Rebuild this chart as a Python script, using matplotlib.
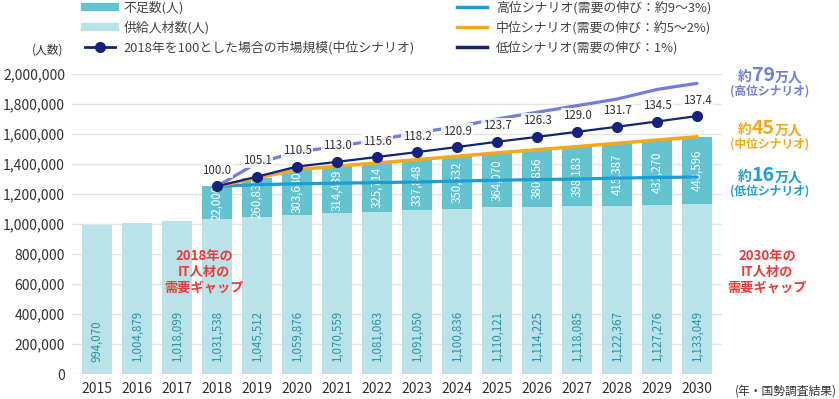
import matplotlib
matplotlib.use('Agg')
import matplotlib.pyplot as plt
from matplotlib.lines import Line2D
from matplotlib.ticker import FuncFormatter

plt.rcParams['font.family'] = ['Noto Sans CJK JP', 'DejaVu Sans']

# data
years = list(range(2015, 2031))
supply = [994070, 1004879, 1018099, 1031538, 1045512, 1059876, 1070559, 1081063,
          1091050, 1100836, 1110121, 1114225, 1118085, 1122367, 1127276, 1133049]
gap_years = list(range(2018, 2031))
shortage = [220000, 260835, 303680, 314439, 325714, 337848, 350532, 364070,
            380856, 398183, 415387, 432270, 448596]
shortage_labels = ['22,000', '260,835', '303,680', '314,439', '325,714', '337,848', '350,532',
                   '364,070', '380,856', '398,183', '415,387', '432,270', '448,596']
market_index = [100.0, 105.1, 110.5, 113.0, 115.6, 118.2, 120.9, 123.7, 126.3, 129.0, 131.7, 134.5, 137.4]
high_demand = [1251538, 1407000, 1480000, 1517000, 1560000, 1607000, 1650000, 1700000,
               1745000, 1789000, 1833000, 1897000, 1938000]
low_demand = [1251538, 1262000, 1268000, 1272000, 1276000, 1280000, 1286000, 1292000,
              1296000, 1300000, 1306000, 1310000, 1313000]

C_SHORT = '#63c3cf'
C_SUPPLY = '#b9e3e9'
C_NAVY = '#15237f'
C_HIGH = '#727de0'
C_MID = '#f6a81c'
C_LOW = '#1d9dd5'
C_RED = '#f03a3a'
C_TEXT = '#333333'

W, H = 839, 399
fig = plt.figure(figsize=(W / 100, H / 100), dpi=100)


def px(x, y):
    return (x / W, 1 - y / H)


ax = fig.add_axes([72 / W, 25 / H, 650 / W, 300 / H])

mid_demand = [supply[years.index(y)] + s for y, s in zip(gap_years, shortage)]
supply_gap = [supply[years.index(y)] for y in gap_years]

ax.bar(years, supply, width=0.75, color=C_SUPPLY, zorder=2)
ax.bar(gap_years, shortage, width=0.75, bottom=supply_gap, color=C_SHORT, zorder=2)

for yr, v in zip(years, supply):
    ax.annotate(f'{v:,}', (yr, 0), xytext=(0, 8.5), textcoords='offset points',
                rotation=90, ha='center', va='bottom', fontsize=8.3, color='#2b94a3', zorder=3)
for yr, b, s, lab in zip(gap_years, supply_gap, shortage, shortage_labels):
    ax.text(yr, b + s / 2, lab, rotation=90, ha='center', va='center',
            fontsize=8.3, color='white', zorder=3)

ax.plot(gap_years, high_demand, color=C_HIGH, lw=2.3, zorder=4, solid_capstyle='round')
ax.plot(gap_years, low_demand, color=C_LOW, lw=2.3, zorder=4, solid_capstyle='round')
ax.plot(gap_years, mid_demand, color=C_MID, lw=2.5, zorder=5, solid_capstyle='round')

base = mid_demand[0]
market = [v / 100 * base for v in market_index]
ax.plot(gap_years, market, color=C_NAVY, lw=1.6, marker='o', ms=7, zorder=6)
for yr, m, v in zip(gap_years, market, market_index):
    ax.annotate(f'{v:.1f}', (yr, m), xytext=(0, 11.5), textcoords='offset points',
                ha='center', va='center', fontsize=8.3, color=C_TEXT, zorder=7,
                bbox=dict(boxstyle='square,pad=0.1', fc='white', ec='none', alpha=0.85))

ax.set_xlim(2014.375, 2030.625)
ax.set_ylim(0, 2000000)
ax.set_yticks(range(0, 2000001, 200000))
ax.yaxis.set_major_formatter(FuncFormatter(lambda v, p: f'{int(v):,}'))
ax.set_xticks(years)
ax.tick_params(axis='both', length=0, labelsize=10, labelcolor=C_TEXT)
ax.tick_params(axis='y', pad=5)
ax.tick_params(axis='x', pad=6)
ax.yaxis.grid(True, color='#e4e4e4', lw=1)
ax.set_axisbelow(True)
for sp in ax.spines.values():
    sp.set_visible(False)

fig.text(*px(48, 50), '(人数)', fontsize=8.5, color=C_TEXT, ha='center', va='center')
fig.text(*px(735, 391), '(年・国勢調査結果)', fontsize=8.5, color=C_TEXT, ha='left', va='center')

# legends
h_left = [Line2D([], [], color=C_SHORT, lw=6),
          Line2D([], [], color=C_SUPPLY, lw=6),
          Line2D([], [], color=C_NAVY, lw=2, marker='o', ms=7)]
l_left = ['不足数(人)', '供給人材数(人)', '2018年を100とした場合の市場規模(中位シナリオ)']
h_right = [Line2D([], [], color=C_LOW, lw=2.5),
           Line2D([], [], color=C_MID, lw=2.5),
           Line2D([], [], color=C_NAVY, lw=2.5)]
l_right = ['高位シナリオ(需要の伸び：約9〜3%)', '中位シナリオ(需要の伸び：約5〜2%)', '低位シナリオ(需要の伸び：1%)']
for hs, ls, x0 in [(h_left, l_left, 85), (h_right, l_right, 457)]:
    fig.legend(hs, ls, loc='upper left', bbox_to_anchor=px(x0, 1), frameon=False,
               borderpad=0, borderaxespad=0, handlelength=2.3, handletextpad=0.7,
               labelspacing=0.5, fontsize=9.3, labelcolor='#444444')

# right side annotations
renderer = fig.canvas.get_renderer()


def rich(xc, yb, parts, color):
    items = []
    for s, size in parts:
        t = fig.text(0, 0, s, fontsize=size, color=color, fontweight='bold', ha='left', va='baseline')
        items.append((t, t.get_window_extent(renderer).width))
    total = sum(w for _, w in items)
    x = xc - total / 2
    for t, w in items:
        t.set_position(px(x, yb))
        x += w


scen = [('79', C_HIGH, '(高位シナリオ)', 81), ('45', C_MID, '(中位シナリオ)', 134),
        ('16', C_LOW, '(低位シナリオ)', 181)]
for num, col, lab, yb in scen:
    rich(770, yb, [('約', 10), (num, 14), ('万人', 10)], col)
    fig.text(*px(770, yb + 10), lab, fontsize=8.5, color=col, fontweight='bold', ha='center', va='center')

for xc, year in [(204, '2018'), (767, '2030')]:
    for i, line in enumerate([year + '年の', 'IT人材の', '需要ギャップ']):
        fig.text(*px(xc, 256 + 16 * i), line, fontsize=9.5, color=C_RED, fontweight='bold',
                 ha='center', va='center')

fig.savefig('out.png', dpi=100)
